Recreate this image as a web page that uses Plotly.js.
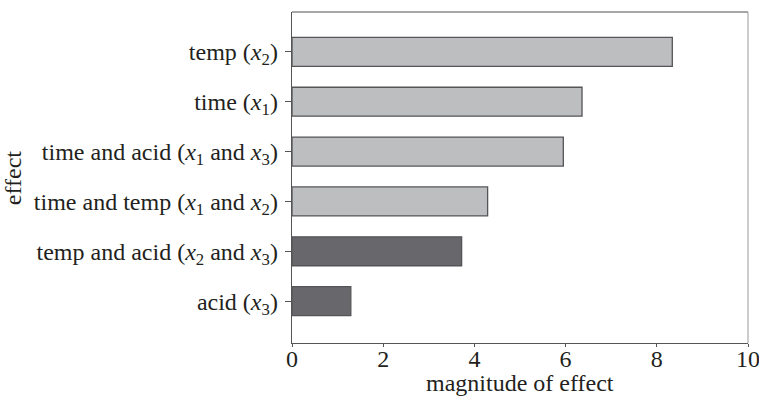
<!DOCTYPE html>
<html>
<head>
<meta charset="utf-8">
<script src="https://cdn.plot.ly/plotly-3.0.1.min.js"></script>
<style>html,body{margin:0;padding:0;background:#fff;}#chart{width:759px;height:398px;}</style>
</head>
<body>
<div id="chart"></div>
<script>
// Data (top to bottom as displayed)
const effects = [
  'temp (<i>x</i><sub>2</sub>)',
  'time (<i>x</i><sub>1</sub>)',
  'time and acid (<i>x</i><sub>1</sub> and <i>x</i><sub>3</sub>)',
  'time and temp (<i>x</i><sub>1</sub> and <i>x</i><sub>2</sub>)',
  'temp and acid (<i>x</i><sub>2</sub> and <i>x</i><sub>3</sub>)',
  'acid (<i>x</i><sub>3</sub>)'
];
const magnitudes = [8.34, 6.36, 5.95, 4.29, 3.72, 1.29];
const significant = [true, true, true, true, false, false];
const xTicks = [0, 2, 4, 6, 8, 10];
const xTitle = 'magnitude of effect';
const yTitle = 'effect';

const lightGrey = '#bdbec0';
const darkGrey = '#68686c';
const barColors = significant.map(s => s ? lightGrey : darkGrey);

const font = {family: 'Liberation Serif', size: 24, color: '#231f20'};

const trace = {
  type: 'bar',
  orientation: 'h',
  x: magnitudes,
  y: effects,
  width: 0.58,
  marker: {color: barColors, line: {color: '#555558', width: 1.3}},
  hoverinfo: 'none'
};

const layout = {
  width: 759, height: 398,
  margin: {l: 292, r: 11, t: 12, b: 55},
  paper_bgcolor: '#fff', plot_bgcolor: '#fff',
  font: font,
  showlegend: false,
  xaxis: {
    range: [0, 10],
    tickvals: xTicks,
    ticktext: xTicks.map(String),
    ticks: 'outside', ticklen: 3, tickcolor: '#555',
    showline: true, linecolor: '#555', linewidth: 1.3,
    showgrid: false, zeroline: false,
    tickfont: font,
    ticklabelstandoff: -9,
    ticklabeloverflow: 'allow'
  },
  yaxis: {
    type: 'category',
    categoryorder: 'array', categoryarray: effects,
    range: [5.84, -0.8],
    ticks: 'outside', ticklen: 6, tickcolor: '#555',
    showline: true, linecolor: '#555', linewidth: 1.3,
    showgrid: false, zeroline: false,
    tickfont: font,
    ticklabelstandoff: 2
  },
  annotations: [
    {text: xTitle, xref: 'paper', yref: 'paper', x: 0.5, y: -0.121, xanchor: 'center', yanchor: 'middle', showarrow: false, font: font},
    {text: yTitle, xref: 'paper', yref: 'paper', x: -0.6126, y: 0.5, xanchor: 'center', yanchor: 'middle', textangle: -90, showarrow: false, font: font}
  ],
  shapes: [
    {type: 'line', xref: 'paper', yref: 'paper', x0: 0, x1: 1, y0: 1, y1: 1, line: {color: '#8a8a8c', width: 1.3}},
    {type: 'line', xref: 'paper', yref: 'paper', x0: 1, x1: 1, y0: 0, y1: 1, line: {color: '#9a9a9c', width: 1}}
  ]
};

Plotly.newPlot('chart', [trace], layout, {displayModeBar: false, staticPlot: true});
</script>
</body>
</html>
